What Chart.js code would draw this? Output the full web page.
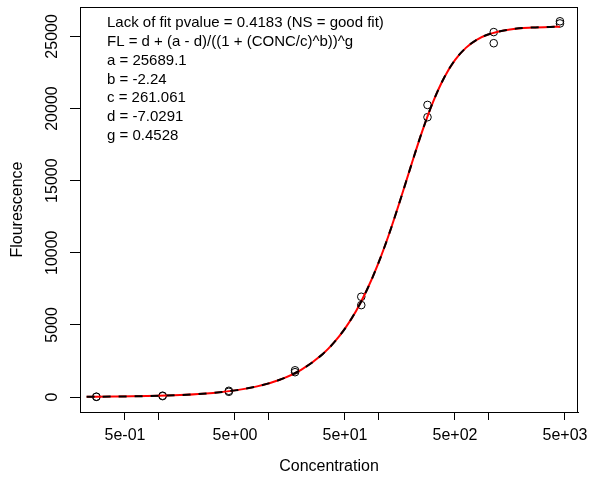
<!DOCTYPE html>
<html>
<head>
<meta charset="utf-8">
<script src="https://cdn.jsdelivr.net/npm/chart.js@4"></script>
<style>
  html, body { margin: 0; padding: 0; background: #fff; }
  #wrap { width: 590px; height: 481px; }
</style>
</head>
<body>
<div id="wrap"><canvas id="chart" width="590" height="481"></canvas></div>
<script>
/* Measured points (two replicates per concentration) */
var pointConc = [4500, 4500, 1125, 1125, 281.25, 281.25, 70.31, 70.31, 17.58, 17.58, 4.395, 4.395, 1.099, 1.099, 0.2747, 0.2747];
var pointFl = [26050, 25900, 25300, 24530, 20250, 19400, 6950, 6370, 1850, 1720, 430, 360, 90, 60, 20, 10];

/* Fitted curve */
var curveConc = [0.2239, 0.3981, 0.7943, 1.585, 3.162, 5.012, 7.943, 12.59, 19.95, 31.62, 39.81, 50.12, 63.10, 79.43, 100,
  125.9, 158.5, 199.5, 251.2, 316.2, 398.1, 501.2, 631.0, 794.3, 1000, 1585, 2512, 3981, 4500];
var curveFl = [13, 29, 65, 138, 285, 459, 737, 1179, 1884, 3001, 3783, 4759, 5969, 7450, 9230,
  11303, 13620, 16044, 18404, 20470, 22139, 23374, 24223, 24782, 25135, 25487, 25616, 25663, 25669];

/* Axis ticks */
var xTickValues = [0.5, 1, 5, 10, 50, 100, 500, 1000, 5000];
var xTickLabels = ['5e-01', '', '5e+00', '', '5e+01', '', '5e+02', '', '5e+03'];
var yTickValues = [0, 5000, 10000, 15000, 20000, 25000];
var yTickLabels = ['0', '5000', '10000', '15000', '20000', '25000'];

var annotationLines = [
  'Lack of fit pvalue = 0.4183 (NS = good fit)',
  'FL = d + (a - d)/((1 + (CONC/c)^b))^g',
  'a = 25689.1',
  'b = -2.24',
  'c = 261.061',
  'd = -7.0291',
  'g = 0.4528'
];

var fontFamily = '"Liberation Sans", Arial, sans-serif';

function toXY(xs, ys) {
  var out = [];
  for (var i = 0; i < xs.length; i++) {
    out.push({x: xs[i], y: ys[i]});
  }
  return out;
}

/* box, y labels, titles and fit text */
var extrasPlugin = {
  id: 'extras',
  afterDraw: function(chart) {
    var ctx = chart.ctx;
    var area = chart.chartArea;
    var yScale = chart.scales.y;

    ctx.save();
    ctx.strokeStyle = '#000';
    ctx.lineWidth = 1;
    ctx.strokeRect(Math.round(area.left) + 0.5, Math.round(area.top) + 0.5,
      Math.round(area.right - area.left) - 1, Math.round(area.bottom - area.top));

    ctx.fillStyle = '#000';
    ctx.textAlign = 'center';
    ctx.textBaseline = 'middle';

    // y tick labels, rotated like R
    ctx.font = '16px ' + fontFamily;
    for (var i = 0; i < yTickValues.length; i++) {
      var py = yScale.getPixelForValue(yTickValues[i]);
      ctx.save();
      ctx.translate(53, py);
      ctx.rotate(-Math.PI / 2);
      ctx.fillText(yTickLabels[i], 0, 0);
      ctx.restore();
    }

    // axis titles
    ctx.fillText('Concentration', (area.left + area.right) / 2, 467);
    ctx.save();
    ctx.translate(18, (area.top + area.bottom) / 2);
    ctx.rotate(-Math.PI / 2);
    ctx.fillText('Flourescence', 0, 0);
    ctx.restore();

    // fit annotation
    ctx.textAlign = 'left';
    ctx.font = '15px ' + fontFamily;
    for (var j = 0; j < annotationLines.length; j++) {
      ctx.fillText(annotationLines[j], 107, 23 + j * 18.8);
    }
    ctx.restore();
  }
};

var ctx = document.getElementById('chart');
var chart = new Chart(ctx, {
  type: 'line',
  data: {
    datasets: [{
      label: 'fit dashed',
      data: toXY(curveConc, curveFl),
      borderColor: '#000',
      borderWidth: 2,
      borderDash: [8, 8],
      pointRadius: 0,
      fill: false,
      cubicInterpolationMode: 'monotone'
    }, {
      label: 'fit',
      data: toXY(curveConc, curveFl),
      borderColor: '#ff0000',
      borderWidth: 2,
      pointRadius: 0,
      fill: false,
      cubicInterpolationMode: 'monotone'
    }, {
      label: 'data',
      data: toXY(pointConc, pointFl),
      showLine: false,
      pointStyle: 'circle',
      pointRadius: 3.8,
      pointBorderWidth: 1,
      pointBorderColor: '#000',
      pointBackgroundColor: 'rgba(0,0,0,0)'
    }]
  },
  options: {
    responsive: false,
    animation: false,
    events: [],
    layout: { padding: { top: 7, right: 12, left: 0, bottom: 0 } },
    plugins: {
      legend: { display: false },
      tooltip: { enabled: false }
    },
    scales: {
      x: {
        type: 'logarithmic',
        min: 0.195,
        max: 6565,
        afterFit: function(scale) {
          scale.height = 69;
          scale.paddingLeft = 0;
          scale.paddingRight = 0;
        },
        afterBuildTicks: function(scale) {
          scale.ticks = xTickValues.map(function(v) { return {value: v}; });
        },
        grid: {
          display: true,
          drawOnChartArea: false,
          drawTicks: true,
          tickLength: 8,
          color: '#000'
        },
        border: { display: true, color: '#000', width: 1 },
        ticks: {
          autoSkip: false,
          maxRotation: 0,
          minRotation: 0,
          padding: 6,
          color: '#000',
          font: { family: fontFamily, size: 16 },
          callback: function(value) {
            var idx = xTickValues.indexOf(value);
            return idx >= 0 ? xTickLabels[idx] : '';
          }
        }
      },
      y: {
        type: 'linear',
        min: -1040,
        max: 27040,
        afterFit: function(scale) {
          scale.width = 80;
          scale.paddingTop = 0;
          scale.paddingBottom = 0;
        },
        afterBuildTicks: function(scale) {
          scale.ticks = yTickValues.map(function(v) { return {value: v}; });
        },
        grid: {
          display: true,
          drawOnChartArea: false,
          drawTicks: true,
          tickLength: 10,
          color: '#000'
        },
        border: { display: true, color: '#000', width: 1 },
        ticks: { display: false }
      }
    }
  },
  plugins: [extrasPlugin]
});
</script>
</body>
</html>
